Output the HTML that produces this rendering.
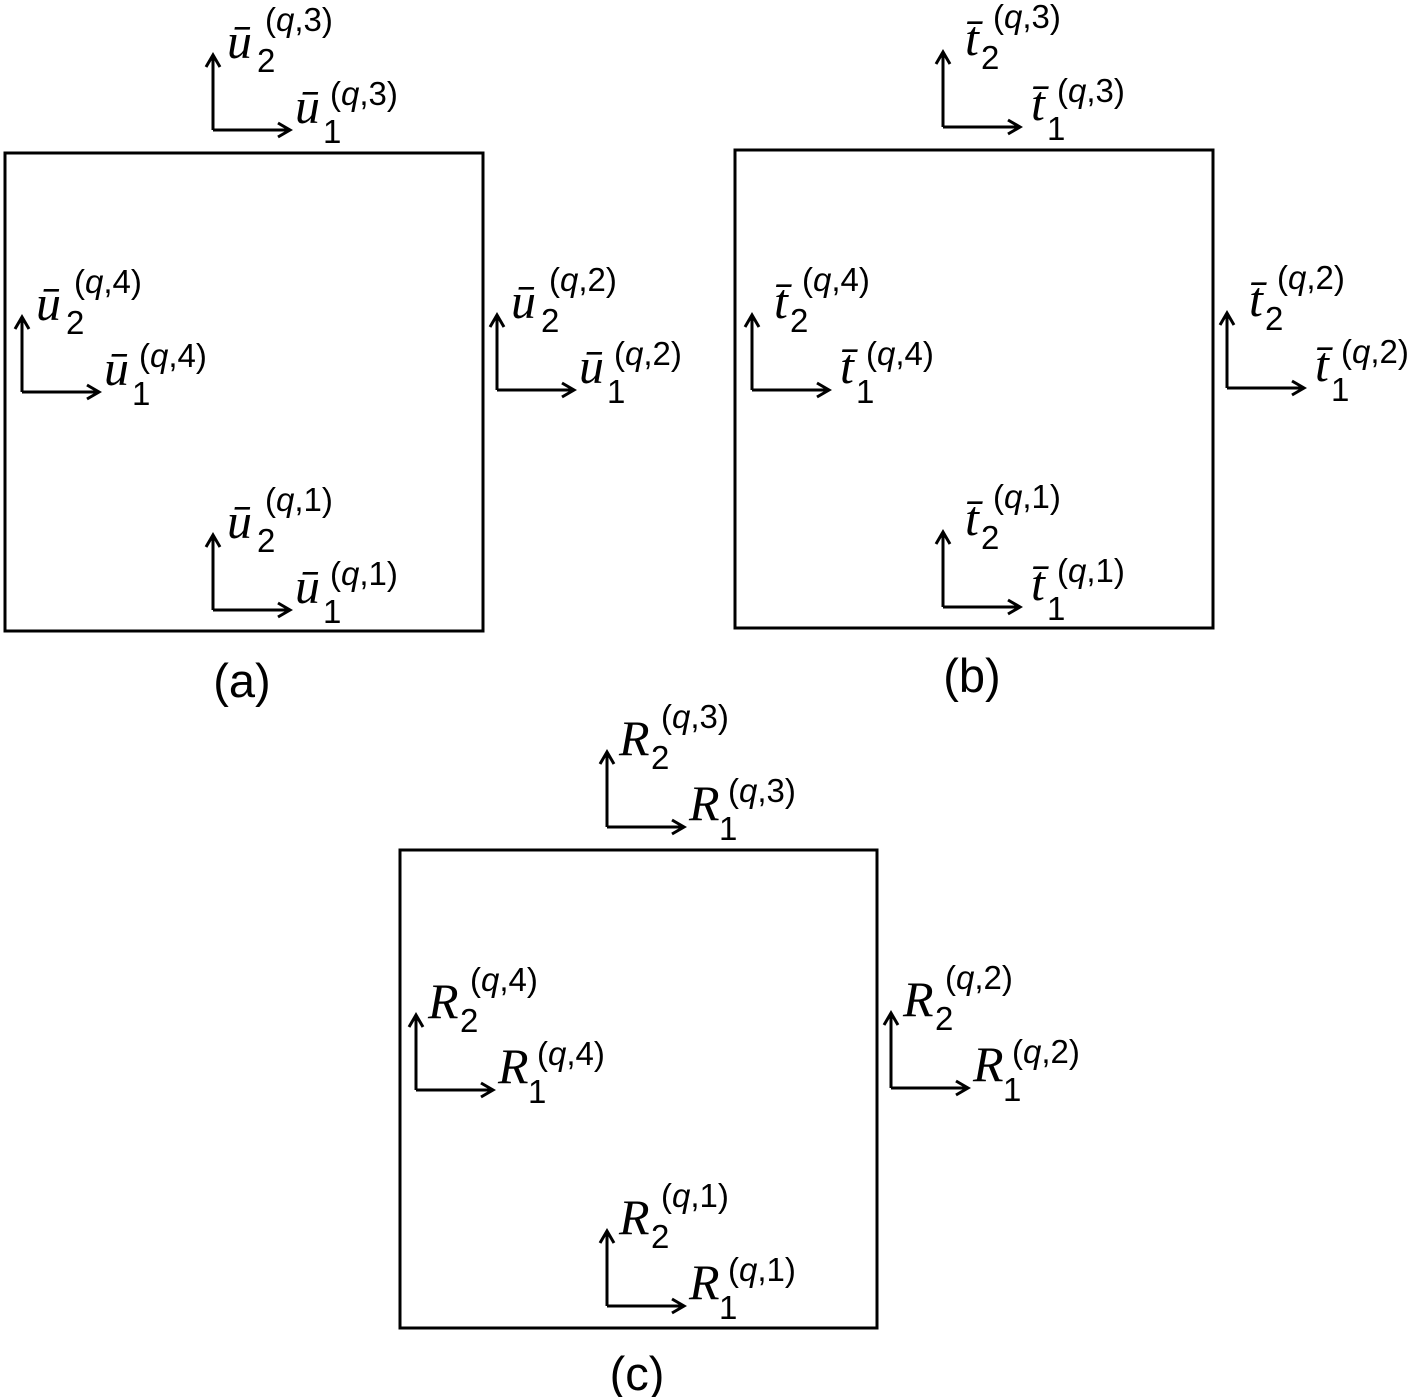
<!DOCTYPE html>
<html><head><meta charset="utf-8"><style>
body{margin:0;background:#fff}
svg{display:block}
.m{font-family:"Liberation Serif",serif;font-style:italic;font-size:50px}
.s{font-family:"Liberation Sans",sans-serif;font-style:normal;font-size:33px}
.p{font-family:"Liberation Sans",sans-serif;font-size:33px}
.c{font-family:"Liberation Sans",sans-serif;font-size:47px}
</style></head><body>
<svg width="1417" height="1397" viewBox="0 0 1417 1397">
<defs>
<g id="ar" fill="none" stroke="#000" stroke-width="3">
<path d="M0,0 V-75 M0,0 H77"/>
<polyline points="-7,-63 0,-75 7,-63"/>
<polyline points="65,-7 77,0 65,7"/>
</g>
</defs>
<g fill="none" stroke="#000" stroke-width="3">
<rect x="5" y="153" width="478" height="478"/>
<rect x="735" y="150" width="478" height="478"/>
<rect x="400" y="850" width="477" height="478"/>
</g>
<!-- (a) -->
<g transform="translate(213,130)"><use href="#ar"/>
<text class="m" x="14" y="-72">ū</text><text class="s" x="44" y="-58">2</text><text class="p" x="52" y="-99">(<tspan font-style="italic">q</tspan>,3)</text>
<text class="m" x="82" y="-7">ū</text><text class="s" x="110" y="13">1</text><text class="p" x="117" y="-25">(<tspan font-style="italic">q</tspan>,3)</text></g>
<g transform="translate(22,392)"><use href="#ar"/>
<text class="m" x="14" y="-72">ū</text><text class="s" x="44" y="-58">2</text><text class="p" x="52" y="-99">(<tspan font-style="italic">q</tspan>,4)</text>
<text class="m" x="82" y="-7">ū</text><text class="s" x="110" y="13">1</text><text class="p" x="117" y="-25">(<tspan font-style="italic">q</tspan>,4)</text></g>
<g transform="translate(497,390)"><use href="#ar"/>
<text class="m" x="14" y="-72">ū</text><text class="s" x="44" y="-58">2</text><text class="p" x="52" y="-99">(<tspan font-style="italic">q</tspan>,2)</text>
<text class="m" x="82" y="-7">ū</text><text class="s" x="110" y="13">1</text><text class="p" x="117" y="-25">(<tspan font-style="italic">q</tspan>,2)</text></g>
<g transform="translate(213,610)"><use href="#ar"/>
<text class="m" x="14" y="-72">ū</text><text class="s" x="44" y="-58">2</text><text class="p" x="52" y="-99">(<tspan font-style="italic">q</tspan>,1)</text>
<text class="m" x="82" y="-7">ū</text><text class="s" x="110" y="13">1</text><text class="p" x="117" y="-25">(<tspan font-style="italic">q</tspan>,1)</text></g>
<!-- (b) -->
<g transform="translate(943,127)"><use href="#ar"/>
<text class="m" x="22" y="-72">t̄</text><text class="s" x="38" y="-58">2</text><text class="p" x="50" y="-99">(<tspan font-style="italic">q</tspan>,3)</text>
<text class="m" x="88" y="-7">t̄</text><text class="s" x="104" y="13">1</text><text class="p" x="114" y="-25">(<tspan font-style="italic">q</tspan>,3)</text></g>
<g transform="translate(752,390)"><use href="#ar"/>
<text class="m" x="22" y="-72">t̄</text><text class="s" x="38" y="-58">2</text><text class="p" x="50" y="-99">(<tspan font-style="italic">q</tspan>,4)</text>
<text class="m" x="88" y="-7">t̄</text><text class="s" x="104" y="13">1</text><text class="p" x="114" y="-25">(<tspan font-style="italic">q</tspan>,4)</text></g>
<g transform="translate(1227,388)"><use href="#ar"/>
<text class="m" x="22" y="-72">t̄</text><text class="s" x="38" y="-58">2</text><text class="p" x="50" y="-99">(<tspan font-style="italic">q</tspan>,2)</text>
<text class="m" x="88" y="-7">t̄</text><text class="s" x="104" y="13">1</text><text class="p" x="114" y="-25">(<tspan font-style="italic">q</tspan>,2)</text></g>
<g transform="translate(943,607)"><use href="#ar"/>
<text class="m" x="22" y="-72">t̄</text><text class="s" x="38" y="-58">2</text><text class="p" x="50" y="-99">(<tspan font-style="italic">q</tspan>,1)</text>
<text class="m" x="88" y="-7">t̄</text><text class="s" x="104" y="13">1</text><text class="p" x="114" y="-25">(<tspan font-style="italic">q</tspan>,1)</text></g>
<!-- (c) -->
<g transform="translate(607,827)"><use href="#ar"/>
<text class="m" x="12" y="-72">R</text><text class="s" x="44" y="-58">2</text><text class="p" x="54" y="-99">(<tspan font-style="italic">q</tspan>,3)</text>
<text class="m" x="82" y="-7">R</text><text class="s" x="112" y="13">1</text><text class="p" x="121" y="-25">(<tspan font-style="italic">q</tspan>,3)</text></g>
<g transform="translate(416,1090)"><use href="#ar"/>
<text class="m" x="12" y="-72">R</text><text class="s" x="44" y="-58">2</text><text class="p" x="54" y="-99">(<tspan font-style="italic">q</tspan>,4)</text>
<text class="m" x="82" y="-7">R</text><text class="s" x="112" y="13">1</text><text class="p" x="121" y="-25">(<tspan font-style="italic">q</tspan>,4)</text></g>
<g transform="translate(891,1088)"><use href="#ar"/>
<text class="m" x="12" y="-72">R</text><text class="s" x="44" y="-58">2</text><text class="p" x="54" y="-99">(<tspan font-style="italic">q</tspan>,2)</text>
<text class="m" x="82" y="-7">R</text><text class="s" x="112" y="13">1</text><text class="p" x="121" y="-25">(<tspan font-style="italic">q</tspan>,2)</text></g>
<g transform="translate(607,1306)"><use href="#ar"/>
<text class="m" x="12" y="-72">R</text><text class="s" x="44" y="-58">2</text><text class="p" x="54" y="-99">(<tspan font-style="italic">q</tspan>,1)</text>
<text class="m" x="82" y="-7">R</text><text class="s" x="112" y="13">1</text><text class="p" x="121" y="-25">(<tspan font-style="italic">q</tspan>,1)</text></g>
<text class="c" x="242" y="697" text-anchor="middle">(a)</text>
<text class="c" x="972" y="692" text-anchor="middle">(b)</text>
<text class="c" x="637" y="1390" text-anchor="middle">(c)</text>
</svg>
</body></html>
